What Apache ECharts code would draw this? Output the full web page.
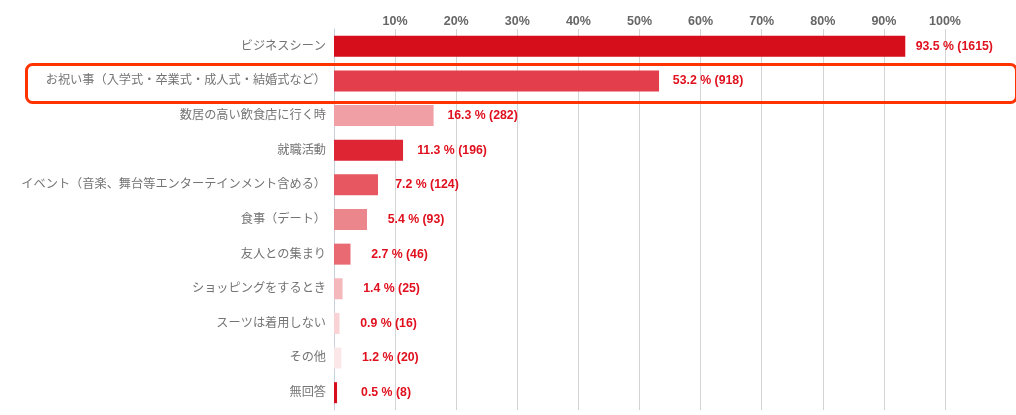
<!DOCTYPE html>
<html>
<head>
<meta charset="utf-8">
<script src="https://cdn.jsdelivr.net/npm/echarts@6/dist/echarts.min.js"></script>
<style>
  html, body { margin: 0; padding: 0; background: #fff; }
  #chart { width: 1016px; height: 415px; }
</style>
</head>
<body>
<div id="chart"></div>
<script>
// 回答項目（上から順）
const categories = [
  'ビジネスシーン',
  'お祝い事（入学式・卒業式・成人式・結婚式など）',
  '数居の高い飲食店に行く時',
  '就職活動',
  'イベント（音楽、舞台等エンターテインメント含める）',
  '食事（デート）',
  '友人との集まり',
  'ショッピングをするとき',
  'スーツは着用しない',
  'その他',
  '無回答'
];
const percents = [93.5, 53.2, 16.3, 11.3, 7.2, 5.4, 2.7, 1.4, 0.9, 1.2, 0.5];
const counts = [1615, 918, 282, 196, 124, 93, 46, 25, 16, 20, 8];
const barColors = [
  '#d60d1b', '#e23e4b', '#f09fa5', '#dd2534', '#e65762', '#ec868d',
  '#e96a73', '#f4b8bc', '#f8d2d5', '#fbe6e8', '#d60d1b'
];
const tickValues = [10, 20, 30, 40, 50, 60, 70, 80, 90, 100];

const font = "'Liberation Sans', 'Noto Sans CJK JP', sans-serif";

const chart = echarts.init(document.getElementById('chart'));
chart.setOption({
  animation: false,
  textStyle: { fontFamily: font },
  grid: { left: 334, right: 71, top: 29, bottom: 5, outerBoundsMode: 'none', containLabel: false },
  xAxis: {
    type: 'value',
    position: 'top',
    min: 0,
    max: 100,
    interval: 10,
    axisLine: { show: false },
    axisTick: { show: false },
    splitLine: { lineStyle: { color: '#d4d4d4', width: 1 } },
    axisLabel: {
      margin: 1,
      color: '#666',
      fontSize: 12.5,
      fontWeight: 'bold',
      fontFamily: font,
      formatter: v => tickValues.indexOf(v) >= 0 ? v + '%' : ''
    }
  },
  yAxis: {
    type: 'category',
    inverse: true,
    data: categories,
    axisLine: { lineStyle: { color: '#c6d0df' } },
    axisTick: { length: 4, lineStyle: { color: '#c6d0df' } },
    axisLabel: {
      margin: 8,
      color: '#747474',
      fontSize: 12.2,
      fontFamily: font
    }
  },
  series: [{
    type: 'bar',
    barWidth: 21,
    data: percents.map((v, i) => ({
      value: v,
      itemStyle: { color: barColors[i] }
    })),
    label: {
      show: true,
      position: 'right',
      distance: 49,
      align: 'center',
      color: '#e0101e',
      fontSize: 12.3,
      fontWeight: 'bold',
      fontFamily: font,
      formatter: p => p.value + ' % (' + counts[p.dataIndex] + ')'
    }
  }],
  graphic: [{
    type: 'rect',
    left: 24,
    top: 62,
    shape: { width: 990, height: 38, r: 6 },
    style: { fill: 'none', stroke: '#ff3300', lineWidth: 3 },
    z: 100
  }]
});
</script>
</body>
</html>
